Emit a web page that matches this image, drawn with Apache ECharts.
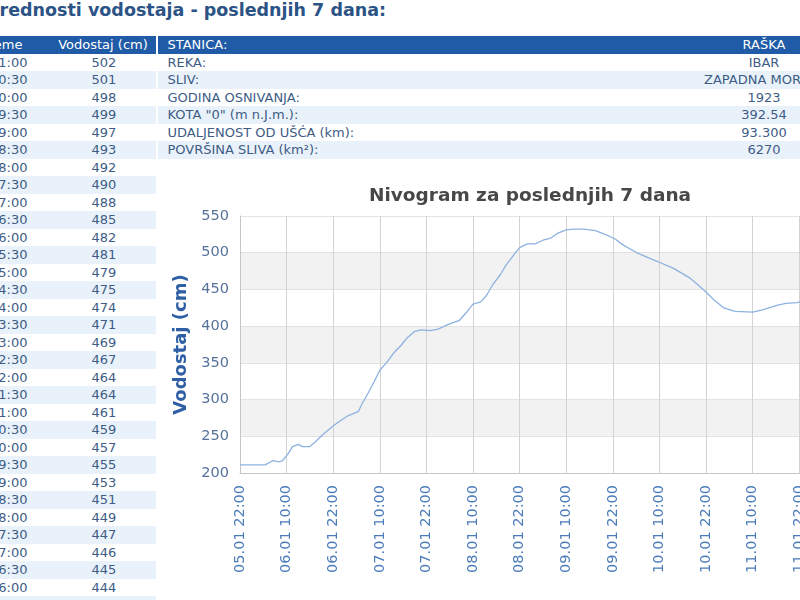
<!DOCTYPE html>
<html>
<head>
<meta charset="utf-8">
<script src="https://cdn.jsdelivr.net/npm/echarts@6/dist/echarts.min.js"></script>
<style>
    html, body { margin: 0; padding: 0; width: 800px; height: 600px; overflow: hidden; background: #fff; }
    body { position: relative; font-family: Verdana, "DejaVu Sans", sans-serif; }
    #naslov { position: absolute; left: -14px; top: 0; font-size: 17.5px; font-weight: bold; color: #2c5385; line-height: 20px; white-space: nowrap; }
    .row { position: absolute; height: 17.5px; line-height: 17.5px; font-size: 13px; color: #3e5c86; white-space: nowrap; }
    .row span { position: absolute; top: 0; }
    .head { background: #1f5ba6; color: #fff; }
    .alt { background: #e9f2fa; }
    #chart { position: absolute; left: 160px; top: 170px; width: 740px; height: 430px; }
</style>
</head>
<body>
<div id="naslov">Vrednosti vodostaja - poslednjih 7 dana:</div>
<div id="tables"></div>
<div id="chart"></div>
<script>
// tabela - poslednja merenja (12.01)
var tableDate = '12.01';
var tableTimes = ['21:00', '20:30', '20:00', '19:30', '19:00', '18:30', '18:00', '17:30', '17:00', '16:30',
    '16:00', '15:30', '15:00', '14:30', '14:00', '13:30', '13:00', '12:30', '12:00', '11:30',
    '11:00', '10:30', '10:00', '09:30', '09:00', '08:30', '08:00', '07:30', '07:00', '06:30',
    '06:00', '05:30'];
var tableLevels = [502, 501, 498, 499, 497, 493, 492, 490, 488, 485,
    482, 481, 479, 475, 474, 471, 469, 467, 464, 464,
    461, 459, 457, 455, 453, 451, 449, 447, 446, 445,
    444, 443];

// podaci o stanici
var stationLabels = ['STANICA:', 'REKA:', 'SLIV:', 'GODINA OSNIVANJA:', 'KOTA "0" (m n.J.m.):', 'UDALJENOST OD UŠĆA (km):', 'POVRŠINA SLIVA (km²):'];
var stationValues = ['RAŠKA', 'IBAR', 'ZAPADNA MORAVA', '1923', '392.54', '93.300', '6270'];

// nivogram - ocitano sa grafika
var chartTimes = ['05.01 22:00', '06.01 04:30', '06.01 06:30', '06.01 08:00', '06.01 09:00', '06.01 10:30',
    '06.01 11:30', '06.01 13:00', '06.01 14:00', '06.01 16:00', '06.01 17:30', '06.01 19:30',
    '06.01 21:30', '06.01 23:00', '07.01 01:30', '07.01 04:30', '07.01 05:30', '07.01 07:00',
    '07.01 08:30', '07.01 10:00', '07.01 12:00', '07.01 13:30', '07.01 15:30', '07.01 17:00',
    '07.01 19:00', '07.01 20:30', '07.01 23:00', '08.01 01:00', '08.01 03:30', '08.01 06:30',
    '08.01 08:30', '08.01 10:00', '08.01 12:00', '08.01 13:30', '08.01 15:00', '08.01 17:00',
    '08.01 18:30', '08.01 20:30', '08.01 22:00', '09.01 00:00', '09.01 02:00', '09.01 04:00',
    '09.01 06:00', '09.01 08:00', '09.01 10:00', '09.01 12:00', '09.01 14:30', '09.01 17:30',
    '09.01 20:00', '09.01 22:30', '10.01 00:30', '10.01 04:30', '10.01 09:30', '10.01 13:30',
    '10.01 18:00', '10.01 21:30', '11.01 00:00', '11.01 02:30', '11.01 05:30', '11.01 10:00',
    '11.01 12:30', '11.01 16:00', '11.01 18:30', '11.01 21:30'];
var chartLevels = [211, 211, 217, 215, 217, 227,
    236, 239, 236, 236, 243, 253,
    262, 268, 277, 284, 295, 309,
    324, 340, 352, 363, 374, 384,
    393, 395, 394, 396, 402, 408,
    420, 430, 433, 442, 456, 470,
    483, 497, 507, 512, 512, 517,
    520, 527, 531, 532, 532, 530,
    525, 519, 511, 499, 488, 479,
    465, 449, 436, 425, 420, 419,
    422, 428, 431, 432];

var ROW_H = 17.5;
var TOP = 36;

function addRow(parent, left, width, top, cls, cells) {
    var r = document.createElement('div');
    r.className = 'row' + (cls ? ' ' + cls : '');
    r.style.left = left + 'px';
    r.style.width = width + 'px';
    r.style.top = top + 'px';
    cells.forEach(function (c) {
        var s = document.createElement('span');
        s.textContent = c.text;
        if (c.right != null) { s.style.right = c.right + 'px'; }
        if (c.left != null) { s.style.left = c.left + 'px'; }
        if (c.width != null) { s.style.width = c.width + 'px'; s.style.textAlign = 'center'; }
        r.appendChild(s);
    });
    parent.appendChild(r);
}

var tables = document.getElementById('tables');

// leva tabela
addRow(tables, 0, 155.5, TOP, 'head', [
    {text: 'Vreme', right: 133},
    {text: 'Vodostaj (cm)', left: 48, width: 110}
]);
tableTimes.forEach(function (t, i) {
    addRow(tables, 0, 155.5, TOP + ROW_H * (i + 1), i % 2 ? 'alt' : '', [
        {text: t, right: 128},
        {text: String(tableLevels[i]), left: 54, width: 100}
    ]);
});

// desna tabela
stationLabels.forEach(function (lab, i) {
    addRow(tables, 157.5, 700, TOP + ROW_H * i, i === 0 ? 'head' : (i % 2 ? '' : 'alt'), [
        {text: lab, left: 10},
        {text: stationValues[i], left: 546.5, width: 120}
    ]);
});

// grafik
function toHours(s) {
    var d = parseInt(s.slice(0, 2), 10);
    var h = parseInt(s.slice(6, 8), 10);
    var m = parseInt(s.slice(9, 11), 10);
    return (d - 5) * 24 + h + m / 60 - 22;
}
function pad(n) { return (n < 10 ? '0' : '') + n; }
function fmtHours(v) {
    var total = v + 22;
    var day = 5 + Math.floor(total / 24);
    var hr = Math.round(total % 24);
    return pad(day) + '.01 ' + pad(hr) + ':00';
}

var seriesData = chartTimes.map(function (t, i) { return [toHours(t), chartLevels[i]]; });
for (var i = tableTimes.length - 1; i >= 0; i--) {
    seriesData.push([toHours(tableDate + ' ' + tableTimes[i]), tableLevels[i]]);
}

var myChart = echarts.init(document.getElementById('chart'));
var option = {
    animation: false,
    title: {
        text: 'Nivogram za poslednjih 7 dana',
        left: 'center',
        top: 17,
        padding: 0,
        textStyle: {fontFamily: 'DejaVu Sans', fontSize: 18.5, fontWeight: 'bold', color: '#474747'}
    },
    grid: {left: 80, top: 46, width: 656.7, height: 257},
    xAxis: {
        type: 'value',
        min: 0,
        max: 168,
        interval: 12,
        axisLine: {lineStyle: {color: '#c6c6c6'}},
        axisTick: {show: false},
        axisLabel: {
            rotate: 90,
            margin: 12,
            fontSize: 14.5,
            fontFamily: 'DejaVu Sans',
            color: '#4a7bbb',
            formatter: fmtHours
        },
        splitLine: {show: true, lineStyle: {color: '#d3d3d3'}}
    },
    yAxis: {
        type: 'value',
        min: 200,
        max: 550,
        interval: 50,
        name: 'Vodostaj (cm)',
        nameLocation: 'middle',
        nameGap: 48,
        nameTextStyle: {fontFamily: 'DejaVu Sans', fontSize: 18, fontWeight: 'bold', color: '#2e5fa5'},
        axisLine: {show: true, lineStyle: {color: '#c6c6c6'}},
        axisTick: {show: false},
        axisLabel: {margin: 11, fontSize: 14.5, fontFamily: 'DejaVu Sans', color: '#56729b'},
        splitLine: {lineStyle: {color: '#e2e2e2'}},
        splitArea: {show: true, areaStyle: {color: ['#ffffff', '#f2f2f2']}}
    },
    series: [{
        type: 'line',
        data: seriesData,
        showSymbol: false,
        lineStyle: {color: '#8db2e0', width: 1.3}
    }]
};
myChart.setOption(option);
</script>
</body>
</html>
